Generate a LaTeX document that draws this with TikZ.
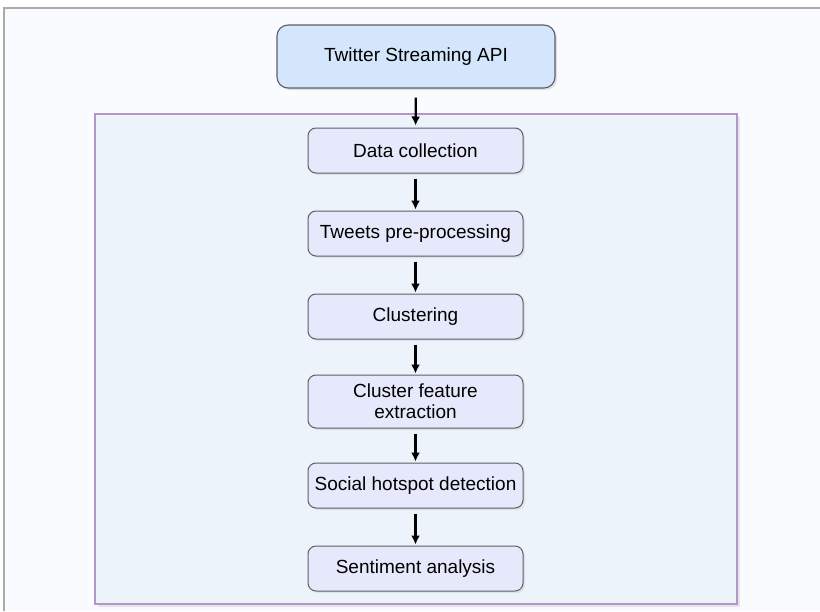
\documentclass[tikz,border=0pt]{standalone}
\usepackage{fontspec}
\setmainfont{Liberation Sans}
\usepackage{tikz}
\usepackage{xcolor}
\usetikzlibrary{arrows.meta,positioning,shadows}
\definecolor{pagebg}{HTML}{F9FBFE}
\definecolor{framegray}{HTML}{ABABAB}
\definecolor{apifill}{HTML}{D3E6FC}
\definecolor{stepfill}{HTML}{E6E9FB}
\definecolor{boxline}{HTML}{5E5E66}
\definecolor{panelfill}{HTML}{EDF3FB}
\definecolor{panelline}{HTML}{B496C8}
\tikzset{
  apibox/.style={
    draw=boxline, fill=apifill, line width=1.1pt, rounded corners=11pt,
    minimum width=278pt, minimum height=63pt, align=center,
    font=\fontsize{19}{21}\selectfont,
    drop shadow={shadow xshift=2pt, shadow yshift=-2pt, fill=black!22}
  },
  stepbox/.style={
    draw=boxline, fill=stepfill, line width=1pt, rounded corners=8pt,
    minimum width=215pt, minimum height=45pt, align=center,
    font=\fontsize{19}{21}\selectfont,
    drop shadow={shadow xshift=2pt, shadow yshift=-2pt, fill=black!18}
  },
  flowarrow/.style={-{Latex[length=9pt,width=9pt]}, line width=2.2pt, draw=black}
}
\begin{document}
\begin{tikzpicture}[x=1pt,y=-1pt]
  \useasboundingbox (0,0) rectangle (820,611);
  % page frame
  \fill[white] (0,0) rectangle (820,611);
  \fill[pagebg] (4,8) rectangle (820,611);
  \draw[framegray, line width=1.2pt] (4,611) -- (4,8) -- (820,8);
  % processing panel
  \node[draw=panelline, fill=panelfill, line width=1.2pt,
        minimum width=642pt, minimum height=490pt, inner sep=0pt,
        drop shadow={shadow xshift=3pt, shadow yshift=-3pt, fill=black!18}]
        (panel) at (416,359) {};
  \node[apibox] (api) at (416,56.5) {Twitter Streaming API};
  \node[stepbox] (collect) at (415.5,150.5) {Data collection};
  \node[stepbox] (preproc) at (415.5,233.5) {Tweets pre-processing};
  \node[stepbox] (cluster) at (415.5,316.5) {Clustering};
  \node[stepbox, minimum height=53pt] (feature) at (415.5,401.5) {Cluster feature\\extraction};
  \node[stepbox] (hotspot) at (415.5,485.5) {Social hotspot detection};
  \node[stepbox] (sentiment) at (415.5,568.5) {Sentiment analysis};
  % arrows
  \draw[flowarrow, shorten <=9pt, shorten >=2pt] (api) -- (collect);
  \foreach \a/\b in {collect/preproc, preproc/cluster, cluster/feature,
                     feature/hotspot, hotspot/sentiment}
    \draw[flowarrow, shorten <=5pt, shorten >=1pt] (\a) -- (\b);
\end{tikzpicture}
\end{document}
